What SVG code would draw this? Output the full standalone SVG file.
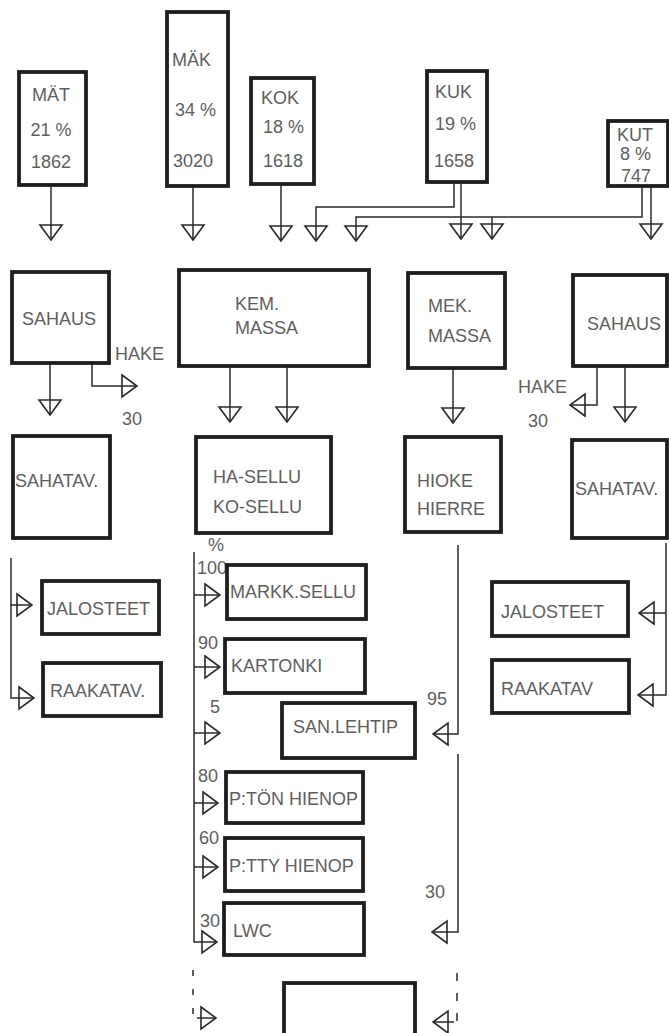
<svg xmlns="http://www.w3.org/2000/svg" width="669" height="1033" viewBox="0 0 669 1033">
<style>
  .box{fill:#fff;stroke:#1e1e1e;stroke-width:3.8}
  .t{font-family:"Liberation Sans",Arial,sans-serif;font-size:18px;fill:#5e5e5e}
  .m{text-anchor:middle}
  .c{fill:none;stroke:#2a2a2a;stroke-width:1.5}
  .d{fill:none;stroke:#2a2a2a;stroke-width:1.5}
</style>
<defs>
  <marker id="ah" markerUnits="userSpaceOnUse" markerWidth="18" markerHeight="26" viewBox="-2 -2 18 26" refX="15" refY="11" orient="auto">
    <path d="M0,0 L15,11 L0,22 Z" fill="none" stroke="#2a2a2a" stroke-width="1.6" stroke-linejoin="miter"/>
  </marker>
</defs>
<rect width="669" height="1033" fill="#fff"/>

<g id="connectors">
  <path class="c" d="M51,186 V240" marker-end="url(#ah)"/>
  <path class="c" d="M193,186 V240" marker-end="url(#ah)"/>
  <path class="c" d="M281,184 V241" marker-end="url(#ah)"/>
  <path class="c" d="M454,182 V207 H316 V241" marker-end="url(#ah)"/>
  <path class="c" d="M461,182 V239" marker-end="url(#ah)"/>
  <path class="c" d="M642,186 V217 H356 V241" marker-end="url(#ah)"/>
  <path class="c" d="M492,217 V239" marker-end="url(#ah)"/>
  <path class="c" d="M651,186 V239" marker-end="url(#ah)"/>

  <path class="c" d="M50,363 V415" marker-end="url(#ah)"/>
  <path class="c" d="M92,363 V386 H137" marker-end="url(#ah)"/>
  <path class="c" d="M230,366 V422" marker-end="url(#ah)"/>
  <path class="c" d="M287,366 V422" marker-end="url(#ah)"/>
  <path class="c" d="M453,368 V423" marker-end="url(#ah)"/>
  <path class="c" d="M597,366 V405 H570" marker-end="url(#ah)"/>
  <path class="c" d="M625,366 V422" marker-end="url(#ah)"/>

  <path class="c" d="M11,558 V698 H34" marker-end="url(#ah)"/>
  <path class="c" d="M11,605 H32" marker-end="url(#ah)"/>

  <path class="c" d="M194,552 V942 H217" marker-end="url(#ah)"/>
  <path class="c" d="M194,595 H220" marker-end="url(#ah)"/>
  <path class="c" d="M194,667 H220" marker-end="url(#ah)"/>
  <path class="c" d="M194,733 H220" marker-end="url(#ah)"/>
  <path class="c" d="M194,803 H218" marker-end="url(#ah)"/>
  <path class="c" d="M194,867 H218" marker-end="url(#ah)"/>

  <path class="c" d="M458,545 V734 H433" marker-end="url(#ah)"/>
  <path class="c" d="M458,754 V932 H432" marker-end="url(#ah)"/>

  <path class="c" d="M666,543 V695 H638" marker-end="url(#ah)"/>
  <path class="c" d="M666,613 H639" marker-end="url(#ah)"/>

  <path class="d" d="M193,970 V1015" stroke-dasharray="6 13"/>
  <path class="c" d="M197,1018 H216" marker-end="url(#ah)"/>
  <path class="d" d="M457,973 V1022" stroke-dasharray="8 12"/>
  <path class="c" d="M454,1022 H433" marker-end="url(#ah)"/>
</g>

<g id="mat">
  <rect class="box" x="19" y="72" width="67" height="113"/>
  <text class="t m" x="51" y="101">MÄT</text>
  <text class="t m" x="51" y="136">21 %</text>
  <text class="t m" x="51" y="168">1862</text>
</g>
<g id="mak">
  <rect class="box" x="167" y="12" width="61" height="174"/>
  <text class="t" x="172" y="66">MÄK</text>
  <text class="t" x="175" y="116">34 %</text>
  <text class="t" x="173" y="167">3020</text>
</g>
<g id="kok">
  <rect class="box" x="251" y="78" width="63" height="106"/>
  <text class="t" x="261" y="104">KOK</text>
  <text class="t" x="263" y="133">18 %</text>
  <text class="t" x="263" y="167">1618</text>
</g>
<g id="kuk">
  <rect class="box" x="427" y="71" width="60" height="111"/>
  <text class="t" x="435" y="98">KUK</text>
  <text class="t" x="435" y="130">19 %</text>
  <text class="t" x="434" y="167">1658</text>
</g>
<g id="kut">
  <rect class="box" x="608" y="121" width="60" height="65"/>
  <text class="t" x="617" y="141">KUT</text>
  <text class="t" x="620" y="160">8 %</text>
  <text class="t" x="621" y="182">747</text>
</g>

<g id="sahaus1">
  <rect class="box" x="12" y="272" width="97" height="91"/>
  <text class="t" x="22" y="325">SAHAUS</text>
</g>
<g id="hake1">
  <text class="t" x="115" y="360">HAKE</text>
  <text class="t" x="122" y="425">30</text>
</g>
<g id="kem">
  <rect class="box" x="179" y="270" width="190" height="96"/>
  <text class="t" x="235" y="310">KEM.</text>
  <text class="t" x="235" y="334">MASSA</text>
</g>
<g id="mek">
  <rect class="box" x="408" y="273" width="97" height="95"/>
  <text class="t" x="428" y="312">MEK.</text>
  <text class="t" x="428" y="342">MASSA</text>
</g>
<g id="sahaus2">
  <rect class="box" x="573" y="275" width="94" height="91"/>
  <text class="t" x="587" y="330">SAHAUS</text>
</g>
<g id="hake2">
  <text class="t" x="518" y="393">HAKE</text>
  <text class="t" x="528" y="427">30</text>
</g>

<g id="sahatav1">
  <rect class="box" x="13" y="436" width="97" height="102"/>
  <text class="t" x="15" y="487">SAHATAV.</text>
</g>
<g id="hasellu">
  <rect class="box" x="196" y="437" width="135" height="96"/>
  <text class="t" x="213" y="483">HA-SELLU</text>
  <text class="t" x="213" y="513">KO-SELLU</text>
</g>
<g id="hioke">
  <rect class="box" x="405" y="437" width="96" height="95"/>
  <text class="t" x="417" y="487">HIOKE</text>
  <text class="t" x="417" y="515">HIERRE</text>
</g>
<g id="sahatav2">
  <rect class="box" x="572" y="440" width="95" height="98"/>
  <text class="t" x="575" y="495">SAHATAV.</text>
</g>

<g id="jalo1">
  <rect class="box" x="42" y="581" width="117" height="53"/>
  <text class="t" x="47" y="615">JALOSTEET</text>
</g>
<g id="raaka1">
  <rect class="box" x="43" y="663" width="118" height="53"/>
  <text class="t" x="50" y="697">RAAKATAV.</text>
</g>
<g id="jalo2">
  <rect class="box" x="492" y="582" width="136" height="54"/>
  <text class="t" x="501" y="618">JALOSTEET</text>
</g>
<g id="raaka2">
  <rect class="box" x="492" y="660" width="137" height="53"/>
  <text class="t" x="501" y="695">RAAKATAV</text>
</g>

<g id="shares">
  <text class="t" x="208" y="551">%</text>
  <text class="t" x="197" y="574">100</text>
  <text class="t" x="198" y="649">90</text>
  <text class="t" x="210" y="713">5</text>
  <text class="t" x="198" y="782">80</text>
  <text class="t" x="199" y="844">60</text>
  <text class="t" x="200" y="927">30</text>
  <text class="t" x="427" y="705">95</text>
  <text class="t" x="425" y="898">30</text>
</g>

<g id="markk">
  <rect class="box" x="227" y="565" width="139" height="54"/>
  <text class="t" x="230" y="598">MARKK.SELLU</text>
</g>
<g id="kartonki">
  <rect class="box" x="225" y="639" width="140" height="54"/>
  <text class="t" x="231" y="672">KARTONKI</text>
</g>
<g id="sanlehtip">
  <rect class="box" x="282" y="703" width="133" height="55"/>
  <text class="t" x="293" y="733">SAN.LEHTIP</text>
</g>
<g id="pton">
  <rect class="box" x="226" y="772" width="137" height="51"/>
  <text class="t" x="229" y="805">P:TÖN HIENOP</text>
</g>
<g id="ptty">
  <rect class="box" x="225" y="838" width="138" height="53"/>
  <text class="t" x="229" y="872">P:TTY HIENOP</text>
</g>
<g id="lwc">
  <rect class="box" x="224" y="903" width="140" height="52"/>
  <text class="t" x="233" y="937">LWC</text>
</g>
<g id="empty">
  <rect class="box" x="284" y="983" width="131" height="60"/>
</g>
</svg>
